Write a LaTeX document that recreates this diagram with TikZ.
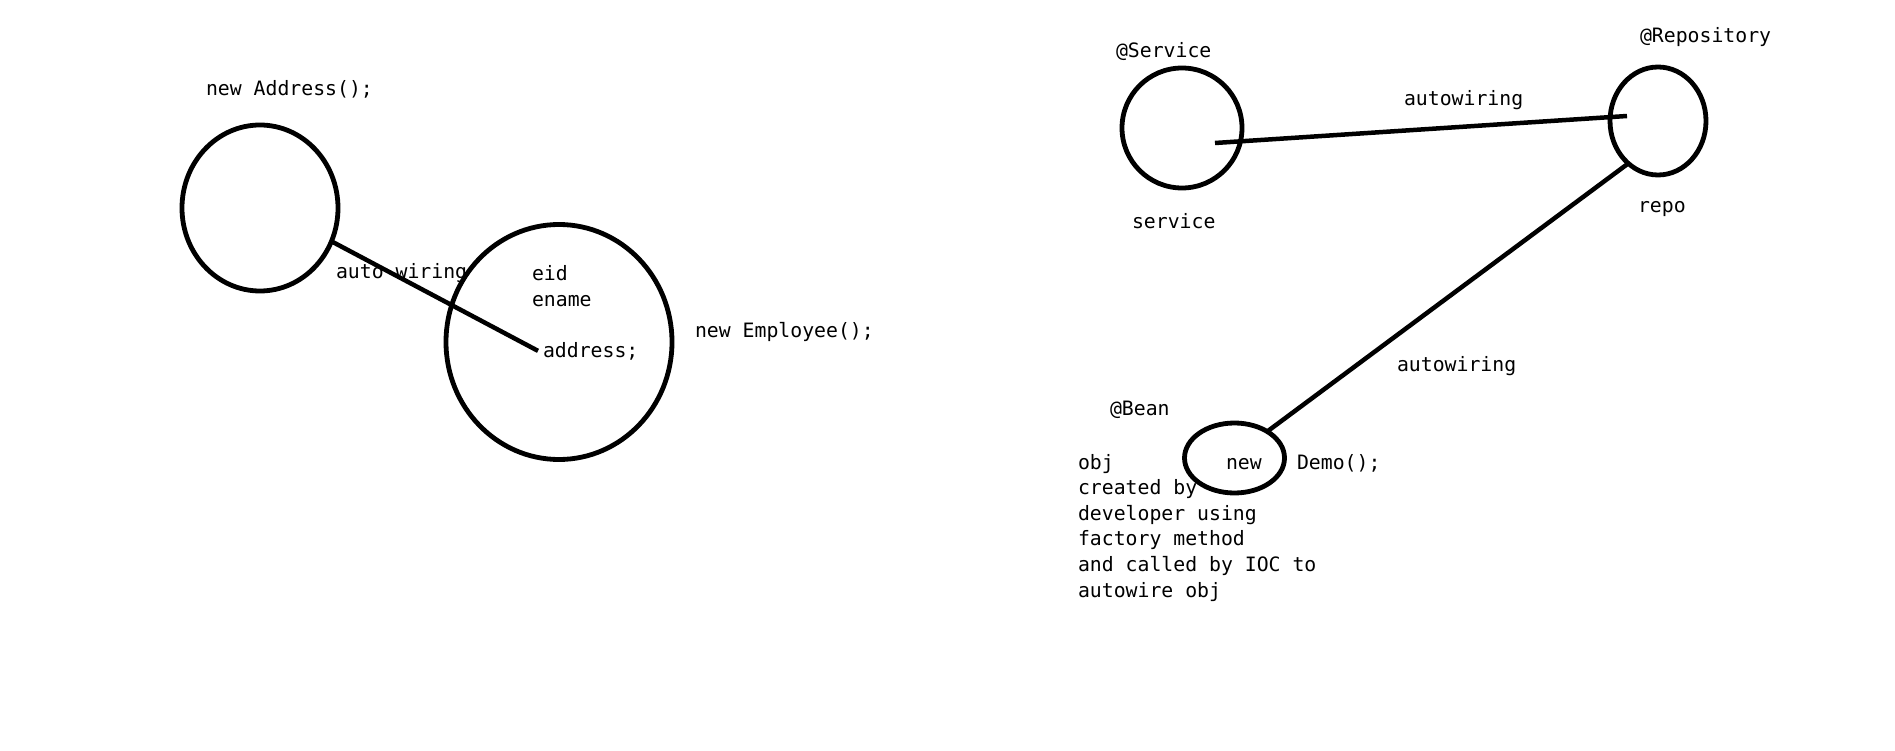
\documentclass[tikz,border=0pt]{standalone}
\usepackage{fontspec}
\setmainfont{DejaVu Sans Mono}
\usetikzlibrary{shapes.geometric}
\tikzset{
  obj/.style={draw, ellipse, line width=4.8pt, inner sep=0pt, outer sep=0pt},
  wire/.style={line width=4.5pt},
  lbl/.style={anchor=base west, inner sep=0pt, outer sep=0pt, font=\fontsize{19.8}{25.6}\selectfont}
}
\begin{document}
\begin{tikzpicture}[x=1pt,y=-1pt]
\useasboundingbox[fill=white] (0,0) rectangle (1895,751);
% left part
\node[obj, minimum width=156pt, minimum height=166pt] (addr) at (260,208) {};
\node[obj, minimum width=226pt, minimum height=235pt] (emp) at (559,342) {};
\node[lbl] (newaddr) at (206,96) {new Address();};
\node[lbl] (autow1) at (336,279) {auto wiring};
\node[lbl] (eid) at (532,281) {eid};
\node[lbl] (ename) at (532,307) {ename};
\node[lbl] (addrtxt) at (543,357) {address;};
\node[lbl] (newemp) at (695,337) {new Employee();};
\draw[wire] (addr.-25) -- ([xshift=-5pt]addrtxt.west);
% right part
\node[obj, minimum width=120pt, minimum height=120pt] (svc) at (1182,128) {};
\node[obj, minimum width=96pt, minimum height=108pt] (repo) at (1658,121) {};
\node[obj, minimum width=100pt, minimum height=70pt] (bean) at (1234.5,458) {};
\node[lbl] (svcann) at (1116,58) {@Service};
\node[lbl] (svctxt) at (1132,229) {service};
\node[lbl] (autow2) at (1404,106) {autowiring};
\node[lbl] (repoann) at (1640,43) {@Repository};
\node[lbl] (repotxt) at (1638,213) {repo};
\node[lbl] (autow3) at (1397,371) {autowiring};
\node[lbl] (beanann) at (1110,415) {@Bean};
\node[lbl, align=left, anchor=north west] (objtxt) at (1078,454) {obj\\created by\\developer using\\factory method\\and called by IOC to\\autowire obj};
\node[lbl] (newtxt) at (1226,469) {new};
\node[lbl] (demotxt) at (1297,469) {Demo();};
\coordinate (svcin) at (1215,143);
\coordinate (repoin) at (1627,116);
\draw[wire] (svcin) -- (repoin);
\draw[wire] (repo.-125) -- (bean.39);
\end{tikzpicture}
\end{document}
